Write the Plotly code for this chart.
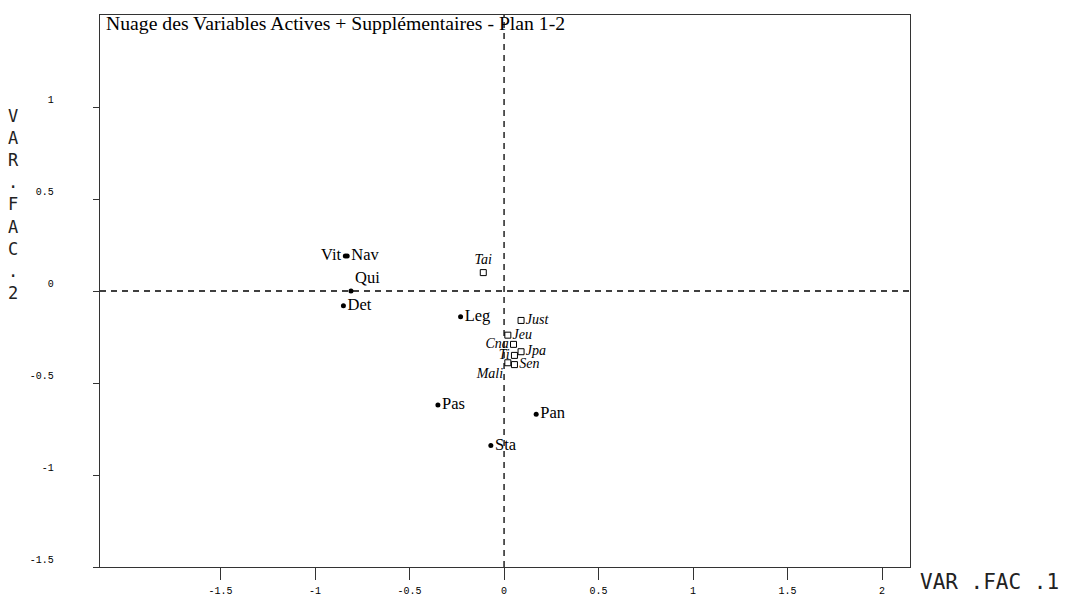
import plotly.graph_objects as go

# ---- data ----
active_names = ["Vit", "Nav", "Qui", "Det", "Leg", "Pas", "Pan", "Sta"]
active_x = [-0.84, -0.83, -0.81, -0.85, -0.23, -0.35, 0.17, -0.07]
active_y = [0.19, 0.19, 0.00, -0.08, -0.14, -0.62, -0.67, -0.84]

sup_names = ["Tai", "Just", "Jeu", "Cna", "Ti", "Jpa", "Mali", "Sen"]
sup_x = [-0.11, 0.09, 0.02, 0.05, 0.055, 0.09, 0.02, 0.055]
sup_y = [0.10, -0.16, -0.24, -0.29, -0.35, -0.33, -0.39, -0.40]

x_ticks = [-1.5, -1, -0.5, 0, 0.5, 1, 1.5, 2]
y_ticks = [-1.5, -1, -0.5, 0, 0.5, 1]

title_text = "Nuage des Variables Actives + Supplémentaires - Plan 1-2"
x_title = "VAR .FAC .1"
y_title = "VAR.FAC.2"

# ---- styles ----
active_side = {"Vit": "middle left", "Qui": "top right"}
sup_side = {"Tai": "top center", "Cna": "middle left", "Ti": "middle left",
            "Mali": "bottom left"}

fig = go.Figure()

fig.add_trace(go.Scatter(
    x=active_x, y=active_y, mode="markers+text", text=active_names,
    textposition=[active_side.get(n, "middle right") for n in active_names],
    marker=dict(symbol="circle", size=5, color="black"),
    textfont=dict(family="Liberation Serif", size=16.5, color="black"),
    cliponaxis=False, showlegend=False, hoverinfo="skip"))

fig.add_trace(go.Scatter(
    x=sup_x, y=sup_y, mode="markers+text", text=sup_names,
    textposition=[sup_side.get(n, "middle right") for n in sup_names],
    marker=dict(symbol="square-open", size=6, color="black",
                line=dict(width=1, color="black")),
    textfont=dict(family="Liberation Serif", size=14, color="black",
                  style="italic"),
    cliponaxis=False, showlegend=False, hoverinfo="skip"))

# dashed axes through the origin
fig.add_shape(type="line", xref="x", yref="paper", x0=0, x1=0, y0=0, y1=1,
              line=dict(color="black", width=1.3, dash="6px,5px"), layer="below")
fig.add_shape(type="line", xref="paper", yref="y", x0=0, x1=1, y0=0, y1=0,
              line=dict(color="black", width=1.3, dash="6px,5px"), layer="below")

fig.update_xaxes(range=[-2.138, 2.148], tickvals=x_ticks,
                 ticktext=[f"{v:g}" for v in x_ticks],
                 showgrid=False, zeroline=False, showline=True, mirror=True,
                 linecolor="#333", linewidth=1.3, ticks="outside", ticklen=12,
                 tickcolor="#333", tickwidth=1, ticklabelstandoff=2,
                 tickfont=dict(family="Liberation Mono", size=10, color="black"))
fig.update_yaxes(range=[-1.5, 1.5], tickvals=y_ticks,
                 ticktext=[f"{v:g}" for v in y_ticks],
                 showgrid=False, zeroline=False, showline=True, mirror=True,
                 linecolor="#333", linewidth=1.3, ticks="outside", ticklen=6,
                 tickcolor="#333", tickwidth=1, ticklabelstandoff=43,
                 ticklabelposition="outside top",
                 tickfont=dict(family="Liberation Mono", size=10, color="black"))

fig.add_annotation(text=title_text, xref="paper", yref="paper",
                   x=0.005, y=0.985, xanchor="left", yanchor="middle",
                   showarrow=False,
                   font=dict(family="Liberation Serif", size=19.7, color="black"))
fig.add_annotation(text=x_title, xref="paper", yref="paper",
                   x=1.010, y=-0.027, xanchor="left", yanchor="middle",
                   showarrow=False,
                   font=dict(family="DejaVu Sans Mono", size=21, color="#222"))
fig.add_annotation(text="<br>".join(list(y_title)), xref="paper", yref="paper",
                   x=-0.107, y=0.656, xanchor="center", yanchor="middle",
                   showarrow=False,
                   font=dict(family="DejaVu Sans Mono", size=17, color="#222"))

fig.update_layout(width=1068, height=613, autosize=False,
                  margin=dict(l=100, r=158, t=15, b=46),
                  paper_bgcolor="white", plot_bgcolor="white")

css_fix = (
    "var h=document.documentElement,b=document.body;"
    "h.style.margin='0';h.style.padding='0';h.style.overflow='hidden';"
    "b.style.margin='0';b.style.padding='0';b.style.overflow='hidden';"
)
fig.write_html("out.html", config={"displayModeBar": False},
               post_script=css_fix)
